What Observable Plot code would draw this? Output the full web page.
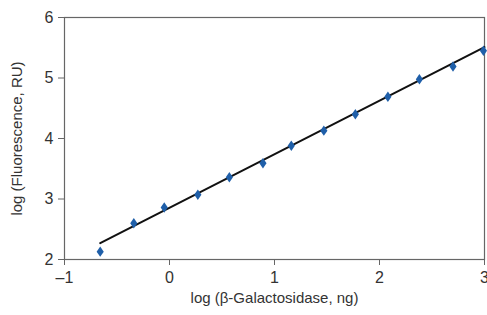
<!DOCTYPE html>
<html>
<head>
<meta charset="utf-8">
<script src="https://cdn.jsdelivr.net/npm/d3@7"></script>
<script src="https://cdn.jsdelivr.net/npm/@observablehq/plot@0.6"></script>
<style>
  html, body { margin: 0; padding: 0; background: #fff; }
  #chart svg { display: block; }
</style>
</head>
<body>
<div id="chart"></div>
<script>
// Data
const logAmount = [-0.66, -0.34, -0.05, 0.27, 0.57, 0.89, 1.16, 1.47, 1.77, 2.08, 2.38, 2.70, 2.99];
const logFluor  = [2.13, 2.60, 2.86, 3.07, 3.36, 3.59, 3.88, 4.13, 4.40, 4.69, 4.98, 5.19, 5.45];
const fitX = [-0.66, 3.0];
const fitY = [2.27, 5.51];
const xTicks = [-1, 0, 1, 2, 3];
const yTicks = [2, 3, 4, 5, 6];
const xLabel = "log (β-Galactosidase, ng)";
const yLabel = "log (Fluorescence, RU)";

const points = logAmount.map((x, i) => ({x, y: logFluor[i]}));
const fit = fitX.map((x, i) => ({x, y: fitY[i]}));

// tall diamond symbol
const tallDiamond = {
  draw(context, size) {
    const r = Math.sqrt(size) / 2;
    const w = r * 0.9, h = r * 1.3;
    context.moveTo(0, -h);
    context.lineTo(w, 0);
    context.lineTo(0, h);
    context.lineTo(-w, 0);
    context.closePath();
  }
};

const chart = Plot.plot({
  width: 487,
  height: 315,
  marginLeft: 64,
  marginRight: 3,
  marginTop: 17,
  marginBottom: 56,
  style: {fontFamily: "Liberation Sans, Arial, sans-serif", fontSize: "15px", color: "#333", background: "#fff"},
  x: {domain: [-1, 3]},
  y: {domain: [2, 6]},
  marks: [
    Plot.frame({stroke: "#666", strokeWidth: 1.2}),
    Plot.axisX({ticks: xTicks, tickSize: 6, tickPadding: 6, fontSize: 16, label: null, stroke: "#666", fill: "#333", tickFormat: d => d < 0 ? "\u2013" + Math.abs(d) : String(d)}),
    Plot.axisY({ticks: yTicks, tickSize: 6, tickPadding: 5, fontSize: 16, label: null, stroke: "#666", fill: "#333", tickFormat: d => String(d)}),
    Plot.line(fit, {x: "x", y: "y", stroke: "#111", strokeWidth: 2}),
    Plot.dot(points, {x: "x", y: "y", symbol: tallDiamond, r: 4.5, fill: "#1f5fa9", stroke: "none"}),
    Plot.text([xLabel], {frameAnchor: "bottom", textAnchor: "middle", dy: 43, fontSize: 15, fill: "#333"}),
    Plot.text([yLabel], {frameAnchor: "left", textAnchor: "middle", dx: -47, rotate: -90, fontSize: 15, fill: "#333"})
  ]
});
document.getElementById("chart").appendChild(chart);
</script>
</body>
</html>
